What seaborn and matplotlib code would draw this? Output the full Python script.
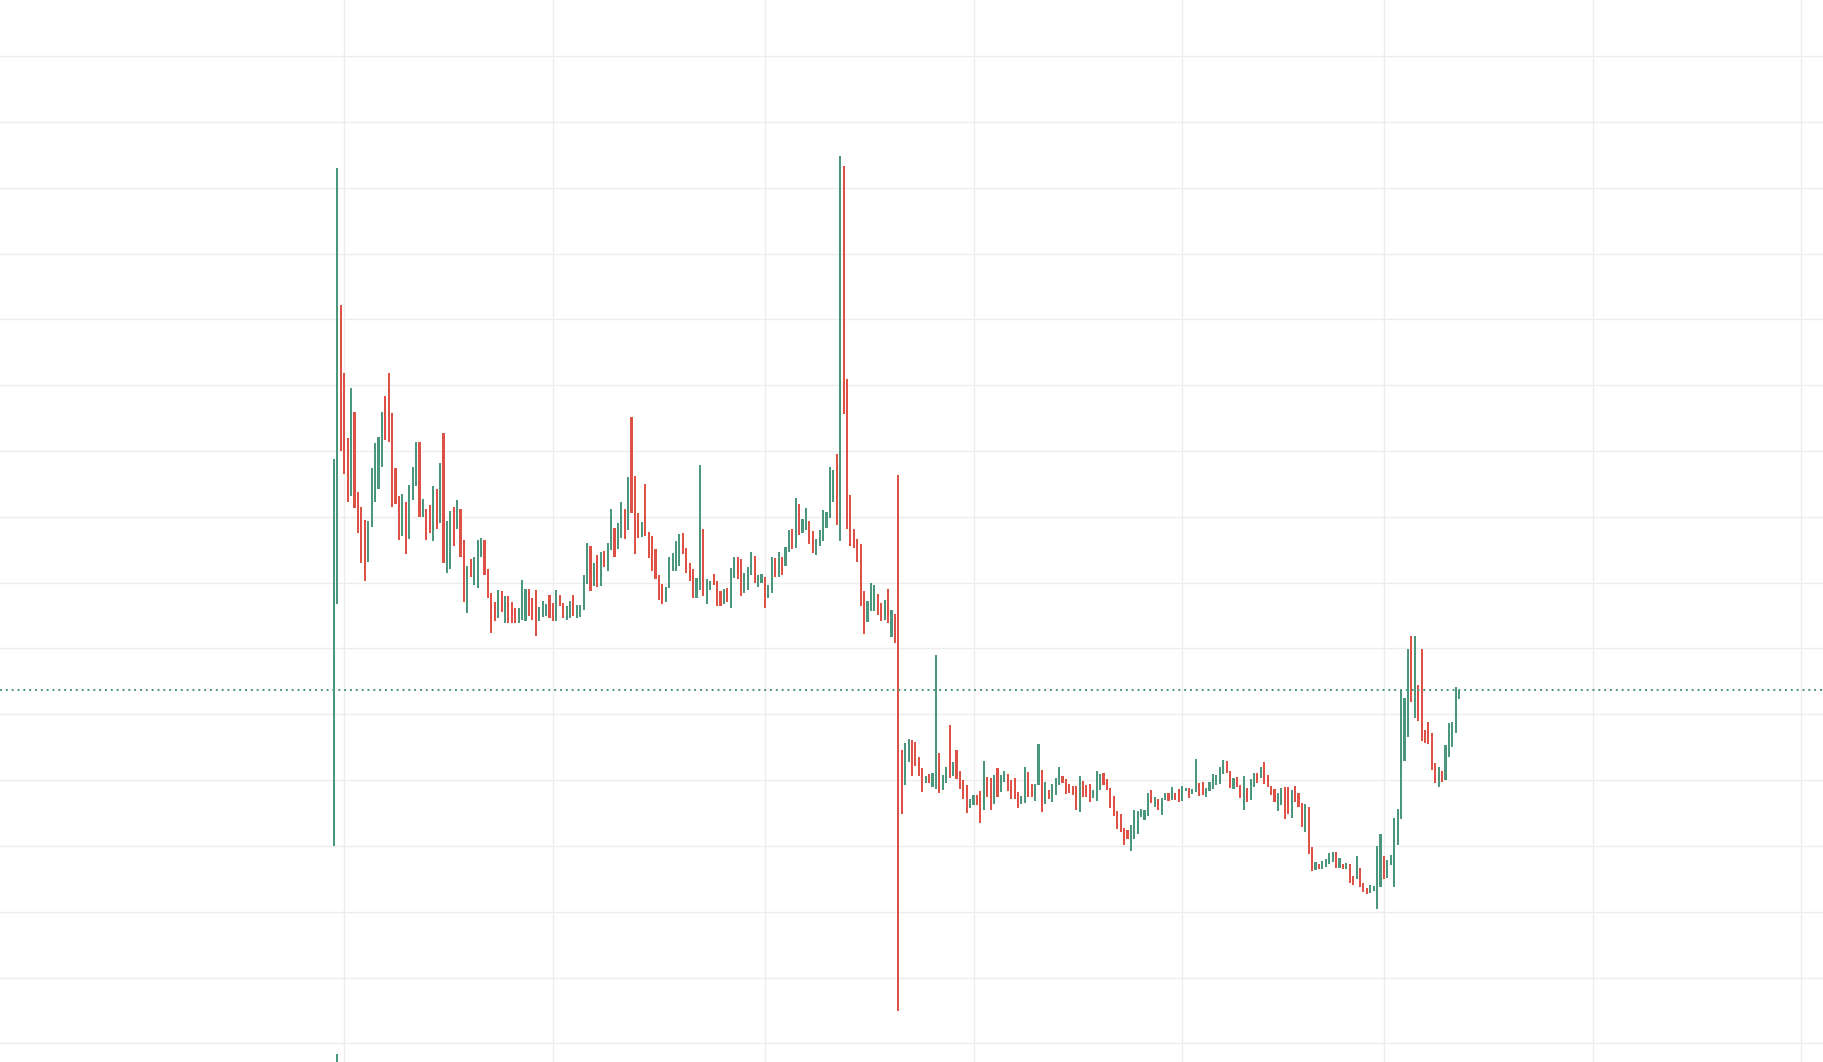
import numpy as np
import pandas as pd
import matplotlib
matplotlib.use("Agg")
import matplotlib.pyplot as plt
import matplotlib.dates as mdates
import seaborn as sns

# daily bars, first one on this date
start = "2021-04-28"

highs = [
    9.88, 14.30, 12.22, 11.19, 10.20, 10.96, 10.59, 9.38, 9.15, 8.95,
    8.94, 9.74, 10.12, 10.21, 10.59, 10.84, 11.19, 10.58, 9.74, 9.32,
    9.35, 9.23, 9.48, 9.76, 10.14, 10.14, 9.27, 9.12, 9.18, 9.47,
    9.42, 9.82, 10.27, 8.94, 9.09, 9.15, 9.26, 9.12, 8.65, 8.25,
    8.36, 8.39, 8.65, 8.68, 8.65, 8.21, 7.84, 7.71, 7.89, 7.87,
    7.80, 7.80, 7.71, 7.62, 7.62, 8.04, 7.90, 7.90, 7.77, 7.89,
    7.63, 7.72, 7.68, 7.81, 7.69, 7.89, 7.81, 7.69, 7.65, 7.72,
    7.81, 7.66, 7.66, 8.12, 8.60, 8.56, 8.30, 8.42, 8.47, 8.48,
    8.60, 9.12, 8.83, 8.91, 9.23, 9.12, 9.61, 10.52, 9.62, 9.06,
    8.92, 9.50, 8.77, 8.71, 8.51, 8.12, 7.98, 7.93, 8.39, 8.45,
    8.63, 8.74, 8.75, 8.53, 8.30, 8.21, 8.07, 9.79, 8.82, 8.06,
    8.03, 8.13, 8.02, 7.88, 7.91, 7.92, 8.22, 8.39, 8.39, 8.36,
    8.15, 8.24, 8.47, 8.40, 8.12, 8.13, 8.09, 7.96, 8.39, 8.37,
    8.47, 8.39, 8.54, 8.80, 8.82, 9.29, 9.20, 8.96, 9.14, 8.93,
    8.79, 8.66, 8.80, 9.10, 9.07, 9.75, 9.71, 9.96, 14.48, 14.33,
    11.10, 9.33, 8.82, 8.67, 8.58, 7.88, 7.72, 7.99, 7.96, 7.83,
    7.69, 7.73, 7.91, 7.59, 7.52, 9.63, 5.46, 5.56, 5.63, 5.61,
    5.58, 5.35, 5.18, 5.06, 5.09, 5.11, 6.90, 5.41, 5.08, 5.20,
    5.83, 5.28, 5.46, 5.14, 5.00, 4.93, 4.71, 4.77, 4.77, 4.83,
    5.29, 5.04, 5.03, 5.08, 5.18, 5.08, 5.14, 5.09, 5.00, 5.03,
    4.82, 4.76, 5.20, 5.13, 4.94, 4.94, 5.55, 5.15, 4.97, 4.85,
    4.94, 5.03, 5.20, 5.06, 5.02, 4.94, 4.91, 4.91, 5.06, 4.99,
    4.93, 4.94, 4.85, 5.14, 5.09, 5.11, 5.02, 4.88, 4.76, 4.53,
    4.49, 4.27, 4.24, 4.32, 4.55, 4.53, 4.56, 4.55, 4.80, 4.85,
    4.74, 4.71, 4.73, 4.80, 4.80, 4.90, 4.80, 4.87, 4.91, 4.88,
    4.88, 4.87, 5.32, 4.96, 4.97, 4.88, 4.97, 5.09, 5.08, 5.20,
    5.31, 5.29, 5.14, 5.03, 5.05, 4.93, 5.06, 4.88, 5.02, 5.11,
    5.11, 5.20, 5.28, 5.08, 4.91, 4.87, 4.80, 4.88, 4.90, 4.90,
    4.85, 4.91, 4.80, 4.65, 4.64, 4.59, 3.98, 3.76, 3.73, 3.77,
    3.80, 3.89, 3.91, 3.91, 3.82, 3.73, 3.74, 3.73, 3.54, 3.85,
    3.67, 3.44, 3.36, 3.41, 3.39, 4.00, 4.18, 3.85, 3.79, 3.86,
    4.42, 4.56, 6.37, 6.25, 6.99, 7.19, 7.19, 6.44, 6.99, 5.76,
    5.88, 5.72, 5.26, 5.20, 5.14, 5.53, 5.87, 5.88, 6.41, 6.37,
]

lows = [
    4.00, 7.67, 10.00, 9.65, 9.23, 9.32, 9.14, 8.76, 8.30, 8.03,
    8.32, 8.85, 9.23, 9.43, 9.76, 10.17, 10.14, 9.15, 9.20, 8.65,
    8.71, 8.44, 8.67, 9.25, 9.47, 8.99, 8.99, 8.65, 8.76, 8.64,
    8.81, 8.90, 8.30, 8.14, 8.20, 8.55, 8.81, 8.39, 7.71, 7.54,
    8.08, 7.97, 7.92, 8.39, 8.12, 7.77, 7.24, 7.41, 7.47, 7.56,
    7.39, 7.38, 7.38, 7.38, 7.38, 7.44, 7.42, 7.50, 7.44, 7.19,
    7.42, 7.48, 7.50, 7.47, 7.42, 7.42, 7.65, 7.47, 7.44, 7.47,
    7.50, 7.47, 7.48, 7.59, 7.98, 7.88, 7.95, 7.94, 7.95, 8.24,
    8.18, 8.49, 8.39, 8.51, 8.68, 8.66, 8.80, 9.06, 8.44, 8.68,
    8.70, 8.71, 8.38, 8.17, 8.05, 7.74, 7.68, 7.70, 7.92, 8.17,
    8.18, 8.26, 8.44, 8.14, 8.02, 7.76, 7.76, 7.89, 7.79, 7.68,
    7.89, 7.97, 7.65, 7.64, 7.67, 7.71, 7.62, 8.07, 8.06, 7.80,
    7.85, 7.89, 8.11, 8.00, 7.94, 8.00, 7.61, 7.76, 7.85, 8.08,
    8.09, 8.12, 8.26, 8.47, 8.51, 8.52, 8.72, 8.75, 8.80, 8.58,
    8.45, 8.42, 8.55, 8.63, 8.83, 8.98, 9.23, 8.87, 8.64, 10.56,
    8.82, 8.56, 8.53, 8.32, 7.64, 7.22, 7.40, 7.57, 7.57, 7.51,
    7.41, 7.43, 7.38, 7.17, 7.08, 1.49, 4.49, 4.92, 5.28, 5.07,
    5.21, 5.07, 4.82, 4.95, 4.95, 4.90, 4.86, 4.81, 4.85, 4.96,
    5.03, 5.06, 5.02, 4.87, 4.72, 4.50, 4.58, 4.62, 4.62, 4.35,
    4.55, 4.75, 4.54, 4.63, 4.74, 4.82, 4.97, 4.83, 4.72, 4.72,
    4.57, 4.64, 4.65, 4.75, 4.75, 4.69, 4.92, 4.52, 4.63, 4.72,
    4.67, 4.78, 4.92, 4.96, 4.79, 4.81, 4.77, 4.54, 4.52, 4.75,
    4.75, 4.67, 4.73, 4.69, 4.85, 4.93, 4.85, 4.58, 4.45, 4.25,
    4.21, 4.02, 4.11, 3.92, 4.11, 4.18, 4.44, 4.39, 4.46, 4.65,
    4.59, 4.55, 4.47, 4.70, 4.68, 4.70, 4.70, 4.67, 4.68, 4.83,
    4.73, 4.79, 4.82, 4.76, 4.77, 4.74, 4.83, 4.87, 4.93, 4.94,
    5.09, 5.11, 4.88, 4.87, 4.90, 4.73, 4.55, 4.67, 4.70, 4.90,
    4.96, 5.03, 4.94, 4.90, 4.77, 4.67, 4.53, 4.62, 4.41, 4.49,
    4.43, 4.67, 4.59, 4.29, 4.21, 3.88, 3.62, 3.63, 3.65, 3.65,
    3.68, 3.73, 3.76, 3.67, 3.67, 3.65, 3.65, 3.44, 3.41, 3.50,
    3.38, 3.30, 3.27, 3.29, 3.32, 3.04, 3.38, 3.50, 3.51, 3.71,
    3.38, 4.01, 4.41, 5.29, 5.65, 6.19, 5.94, 5.90, 5.59, 5.56,
    5.55, 5.15, 4.96, 4.90, 4.97, 5.00, 5.35, 5.50, 5.72, 6.23,
]

# G = closed up, R = closed down
moves = ("GGRRRGRRRR" "GGGGGRRRRR" "GRGGGRGRRG" "RGRGGRGRRG" "RGGGRRRRGR"
         "GRRRGGGRRR" "GGGRRGRRGG" "RGGGGRGRGR" "GGRGGRGRRR" "GRRRRRRGGG"
         "GGRRRRGGRG" "GRRRGRGGRR" "GGGRGGRGGR" "GRGGRGRGGR" "RGGGGGGRGR"
         "RRRRRRGGGR" "RGRGRRRGGR" "RRRGRGGRGG" "RGRRRRGGRR" "GRRGRGGRRR"
         "RGGRRGGRGR" "GGGRRRRRGR" "RRGGGRRRRR" "RRRGGGGGGR" "GRGGRGRRGG"
         "RGGRRGGGGG" "GRRGRRGRGG" "RGRRRRGGRR" "GRRRGRRGRG" "GGGRGRGRRG"
         "RRRGGGGRGG" "GGGGGRGRRR" "RRRGRGGGGG")

# small volume stub peeking in at the bottom edge
vol_day = ["2021-04-29"]
vol_top = [0.84]

last_price = 6.37

sns.set_theme(style="white")

green = "#4a977e"
red = "#dd5146"

df = pd.DataFrame({
    "date": pd.date_range(start, periods=len(highs), freq="D"),
    "high": highs,
    "low": lows,
    "move": list(moves),
})
df["x"] = mdates.date2num(df["date"])
df["color"] = np.where(df["move"] == "G", green, red)

fig = plt.figure(figsize=(18.24, 10.62), dpi=100)
ax = fig.add_axes([0, 0, 1, 1])

y_bottom, y_top = 0.718, 16.851

ax.bar(df["x"], df["high"] - df["low"], bottom=df["low"], width=0.62,
       color=df["color"], linewidth=0, zorder=3)

vx = mdates.date2num(pd.to_datetime(vol_day))
ax.bar(vx, np.array(vol_top) - y_bottom, bottom=y_bottom, width=0.62,
       color=green, linewidth=0, zorder=3)

ax.axhline(last_price, color=green, linestyle=(0, (1, 2)), linewidth=1.4, zorder=4)

# grid: two-month steps on x, unit steps on y
xt = mdates.date2num(pd.date_range("2021-05-01", "2022-07-01", freq="2MS"))
ax.set_xticks(xt)
ax.set_yticks(np.arange(1, 17))
ax.grid(True, color="#ededed", linewidth=1.0)
ax.set_axisbelow(True)
ax.tick_params(length=0, labelbottom=False, labelleft=False)

x0 = mdates.date2num(pd.Timestamp(start))
ax.set_xlim(x0 - 97.66, x0 + 435.67)
ax.set_ylim(y_bottom, y_top)
sns.despine(ax=ax, left=True, bottom=True)

fig.savefig("out.png", dpi=100)
